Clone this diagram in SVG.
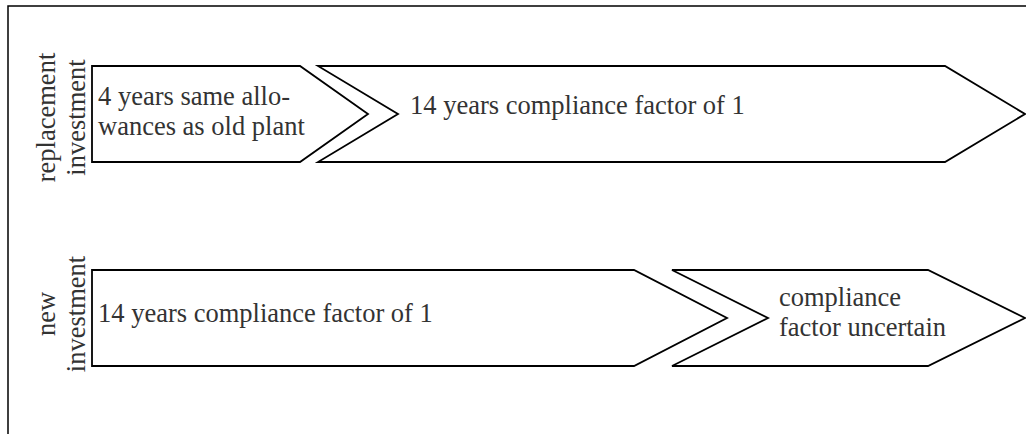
<svg xmlns="http://www.w3.org/2000/svg" width="1026" height="434" viewBox="0 0 1026 434">
<style>
.frame{fill:none;stroke:#000;stroke-width:1.5}
.shape{fill:#fff;stroke:#000;stroke-width:1.8;stroke-linejoin:miter}
.t{font-family:"Liberation Serif","Times New Roman",serif;font-size:26.5px;fill:#333}
.lbl{font-family:"Liberation Serif","Times New Roman",serif;font-size:26.5px;fill:#333;text-anchor:middle}
</style>
<rect width="1026" height="434" fill="#fff"/>
<path class="frame" d="M8,440 L8,6 L1030,6"/>
<g id="labels">
<g id="label-replacement" transform="translate(0,117.5)">
<text class="lbl" transform="translate(55,0) rotate(-90)" x="0" y="0">replacement</text>
<text class="lbl" transform="translate(85,0) rotate(-90)" x="0" y="0">investment</text>
</g>
<g id="label-new" transform="translate(0,314)">
<text class="lbl" transform="translate(55,0) rotate(-90)" x="0" y="0">new</text>
<text class="lbl" transform="translate(85,0) rotate(-90)" x="0" y="0">investment</text>
</g>
</g>
<g id="node-r1">
<path class="shape" d="M92,66 L300,66 L368,114 L300,162 L92,162 Z"/>
<text class="t" x="98" y="105">4 years same allo-</text>
<text class="t" x="98" y="135">wances as old plant</text>
</g>
<g id="node-r2">
<path class="shape" d="M318,66 L945,66 L1025,114 L945,162 L318,162 L398,114 Z"/>
<text class="t" x="410" y="114">14 years compliance factor of 1</text>
</g>
<g id="node-n1">
<path class="shape" d="M92,270 L634,270 L727,318 L634,366 L92,366 Z"/>
<text class="t" x="98" y="322">14 years compliance factor of 1</text>
</g>
<g id="node-n2">
<path class="shape" d="M672,270 L928,270 L1025,318 L928,366 L672,366 L768,318 Z"/>
<text class="t" x="779" y="306">compliance</text>
<text class="t" x="779" y="336">factor uncertain</text>
</g>
<g id="connectors"></g>
</svg>
